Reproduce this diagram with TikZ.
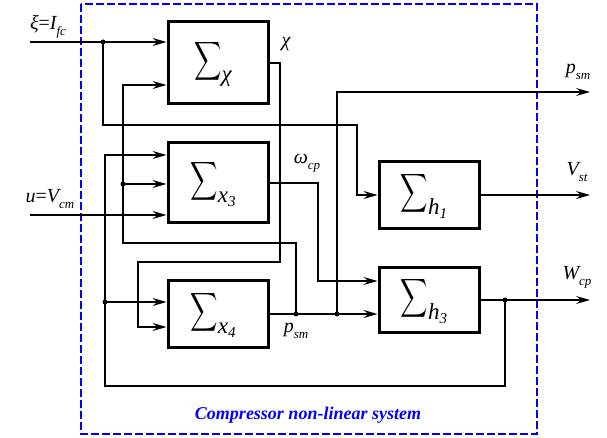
\documentclass[tikz,border=0pt]{standalone}
\usepackage{fontspec}
\usepackage{graphicx}
\setmainfont{Liberation Serif}
\newfontfamily\tms{Liberation Serif}
\usetikzlibrary{arrows.meta}
\newcommand\bigsig{\raisebox{12pt}{\fontsize{10}{12}\selectfont\scalebox{1.9}[2.7]{$\displaystyle\sum$}}}
\newcommand\blkc[2]{\bigsig\raisebox{-2pt}{\fontsize{23}{23}\selectfont\itshape #1}\raisebox{-6pt}{\fontsize{15}{15}\selectfont\itshape #2}\hspace*{10pt}}
\newcommand\lbl[2]{{\itshape #1}\raisebox{-0.3em}{\fontsize{13}{13}\selectfont\itshape #2}}
\begin{document}
\begin{tikzpicture}[x=1pt,y=-1pt,font=\tms,
  blk/.style={draw,line width=3pt,inner sep=0pt,minimum width=100pt,anchor=center},
  wire/.style={line width=1.4pt},
  arr/.style={wire,-{Stealth[length=14pt,width=8pt,inset=5pt]}},
  dot/.style={circle,fill,inner sep=0pt,minimum size=5pt},
  lab/.style={inner sep=0pt,font=\tms\fontsize{20}{20}\selectfont}]
\useasboundingbox (0,0) rectangle (607,438);
% frame
\draw[blue,line width=1.5pt,dash pattern=on 8pt off 3pt] (81,4) rectangle (537,434);
\node[lab,text=blue,font=\tms\fontsize{18}{18}\selectfont\bfseries\itshape] (cap) at (308,415) {Compressor non-linear system};
% blocks
\node[blk,minimum height=82pt] (chi) at (218,63) {\blkc{χ}{}};
\node[blk,minimum height=80pt] (x3) at (218,183) {\blkc{x}{3}};
\node[blk,minimum height=67pt] (x4) at (218,314) {\blkc{x}{4}};
\node[blk,minimum height=67pt] (h1) at (429,195) {\blkc{h}{1}};
\node[blk,minimum height=65pt] (h3) at (429,300) {\blkc{h}{3}};
% labels
\node[lab] (lxi) at (48,27) {\lbl{ξ}{}=\lbl{I}{fc}};
\node[lab] (lu) at (50,199) {\lbl{u}{}=\lbl{V}{cm}};
\node[lab] (lchi) at (286,44) {\itshape χ};
\node[lab] (lw) at (307,163) {\lbl{ω}{cp}};
\node[lab] (lp1) at (296,331) {\lbl{p}{sm}};
\node[lab] (lp2) at (578,72) {\lbl{p}{sm}};
\node[lab] (lv) at (577,172) {\lbl{V}{st}};
\node[lab] (lwcp) at (577,277) {\lbl{W}{cp}};
% coordinates
\coordinate (xiS) at (30,42);
\coordinate (uS) at (30,215);
\coordinate (j1) at (103,42);
\coordinate (j2) at (123,184);
\coordinate (j3) at (105,302);
\coordinate (jp) at (296,314);
\coordinate (jq) at (337,314);
\coordinate (jw) at (505,300);
\coordinate (oP) at (590,92);
\coordinate (oV) at (590,195);
\coordinate (oW) at (590,300);
% inputs
\draw[arr] (xiS) -- (xiS -| chi.west);
\draw[arr] (uS) -- (uS -| x3.west);
\draw[arr] (j1) -- (103,125) -- (357,125) -- (357,195) -- (h1.west);
% p_sm feedback
\draw[arr] (jp) -- (296,243) -- (123,243) -- (123,85) -- (chi.west |- 0,85);
\draw[arr] (j2) -- (j2 -| x3.west);
% W_cp feedback
\draw[arr] (jw) -- (505,386) -- (105,386) -- (105,155) -- (x3.west |- 0,155);
\draw[arr] (j3) -- (j3 -| x4.west);
% chi output
\draw[arr] (chi.east) -- (280,63) -- (280,262) -- (138,262) -- (138,327) -- (x4.west |- 0,327);
% x3 output
\draw[arr] (x3.east) -- (318,183) -- (318,281) -- (h3.west |- 0,281);
% x4 output
\draw[arr] (x4.east) -- (h3.west |- x4.east);
\draw[arr] (jq) -- (337,92) -- (oP);
% outputs
\draw[arr] (h1.east) -- (oV);
\draw[arr] (h3.east) -- (oW);
% junctions
\foreach \p in {j1,j2,j3,jp,jq,jw} \node[dot] at (\p) {};
\end{tikzpicture}
\end{document}
